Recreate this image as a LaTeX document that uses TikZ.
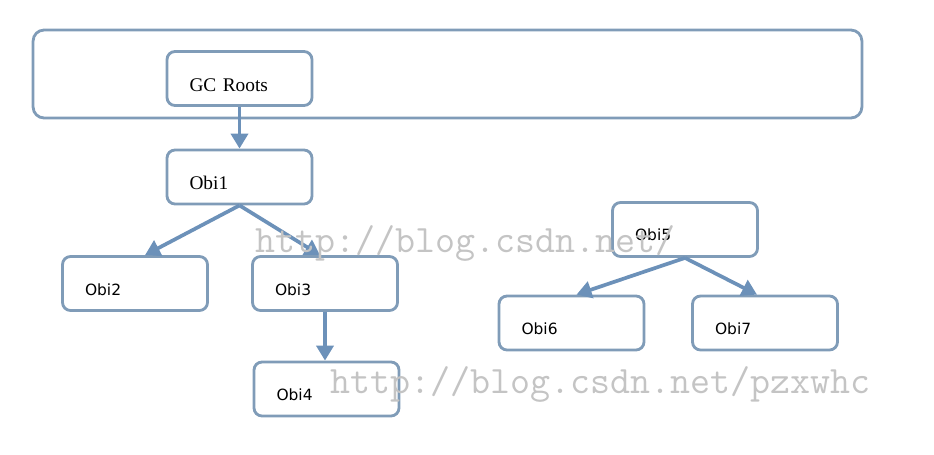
\documentclass[tikz,border=0pt]{standalone}
\usepackage{fontspec}
\usetikzlibrary{arrows.meta}
\newfontfamily\objserif{Liberation Serif}
\newfontfamily\objsans{DejaVu Sans}
\definecolor{boxblue}{RGB}{128,156,184}
\definecolor{arrowblue}{RGB}{108,145,185}
\definecolor{wmgray}{RGB}{196,196,196}

\begin{document}
\begin{tikzpicture}[x=0.02cm,y=-0.02cm,
		obj/.style={draw=boxblue,line width=1.6pt,rounded corners=0.16cm,fill=white,
			minimum width=2.9cm,minimum height=1.08cm,text width=2.0cm,align=left,
			text height=0.5cm,text depth=0pt,inner ysep=0pt},
		sansobj/.style={obj,font=\objsans\fontsize{8.8}{9}\selectfont,text height=0.46cm},
		serifobj/.style={obj,font=\objserif\fontsize{11}{12}\selectfont},
		link/.style={draw=arrowblue,line width=2.1pt,-{Triangle[length=0.3cm,width=0.34cm]}},
		wmtext/.style={text=wmgray,font=\ttfamily\fontsize{22.1}{23}\selectfont,inner sep=0pt,anchor=base west}]
			\useasboundingbox (0,0) rectangle (934,454);

			% root set
			\node[draw=boxblue,line width=1.6pt,rounded corners=0.22cm,minimum width=16.58cm,minimum height=1.76cm] (rootset) at (447.5,74) {};
			\node[serifobj] (gcroots) at (239.5,78.5) {GC Roots};

			% reachable objects
			\node[serifobj] (obi1) at (239.5,177) {Obi1};
			\node[sansobj] (obi2) at (135,283.5) {Obi2};
			\node[sansobj] (obi3) at (325,283.5) {Obi3};
			\node[sansobj] (obi4) at (326.5,389) {Obi4};

			% unreachable objects
			\node[sansobj,text height=0.42cm] (obi5) at (685,229.5) {Obi5};
			\node[sansobj] (obi6) at (571.5,323) {Obi6};
			\node[sansobj] (obi7) at (765,323) {Obi7};

			\draw[link] (gcroots.south) -- (obi1.north);
			\draw[link] (obi1.south) -- ([xshift=0.2cm]obi2.north);
			\draw[link] (obi1.south) -- ([xshift=-0.1cm]obi3.north);
			\draw[link] (obi3.south) -- (obi4.north -| obi3.south);
			\draw[link] (obi5.south) -- ([xshift=0.1cm]obi6.north);
			\draw[link] (obi5.south) -- ([xshift=-0.16cm]obi7.north);

			% watermarks
			\node[wmtext] (wm1) at (255,252) {http://blog.csdn.net/};
			\node[wmtext] (wm2) at (330,393) {http://blog.csdn.net/pzxwhc};
		\end{tikzpicture}
\end{document}
